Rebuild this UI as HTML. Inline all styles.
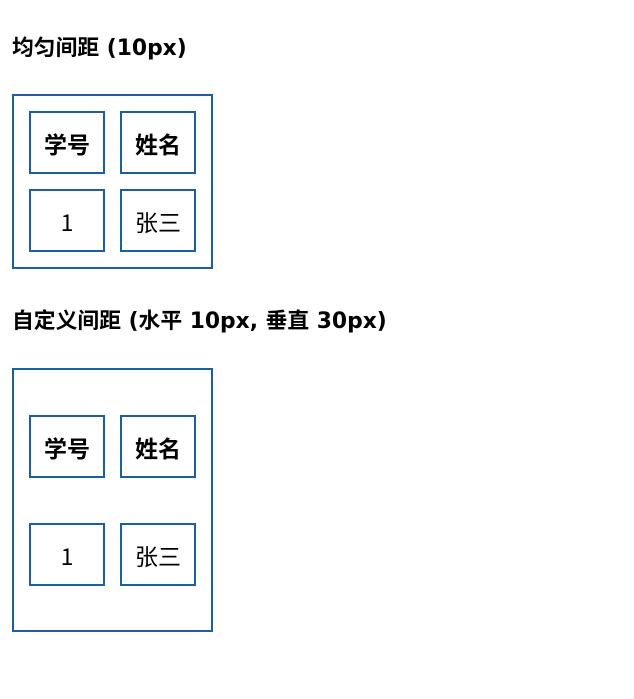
<!DOCTYPE html>
<html><head><meta charset="utf-8"><style>
body{margin:0;width:634px;height:699px;background:#fff;position:relative;font-family:"Noto Sans CJK SC",sans-serif;color:#000}
.h{position:absolute;left:12px;font-family:"DejaVu Sans","Noto Sans CJK SC",sans-serif;font-size:21.8px;font-weight:bold;line-height:24px;white-space:nowrap}
.t{position:absolute;left:12px;width:197px;border:2px solid #1a5fa0}
.c{position:absolute;width:72px;height:59px;border:2px solid #1a5fa0;display:flex;align-items:center;justify-content:center;font-size:23px}
.b{font-weight:bold}
</style></head><body>
<div class="h" style="top:37px">均匀间距 (10px)</div>
<div class="t" style="top:94px;height:171px"></div>
<div class="c b" style="left:29px;top:111px">学号</div>
<div class="c b" style="left:120px;top:111px">姓名</div>
<div class="c" style="left:29px;top:189px">1</div>
<div class="c" style="left:120px;top:189px">张三</div>

<div class="h" style="top:310px">自定义间距 (水平 10px, 垂直 30px)</div>
<div class="t" style="top:368px;height:260px"></div>
<div class="c b" style="left:29px;top:415px">学号</div>
<div class="c b" style="left:120px;top:415px">姓名</div>
<div class="c" style="left:29px;top:523px">1</div>
<div class="c" style="left:120px;top:523px">张三</div>
</body></html>
